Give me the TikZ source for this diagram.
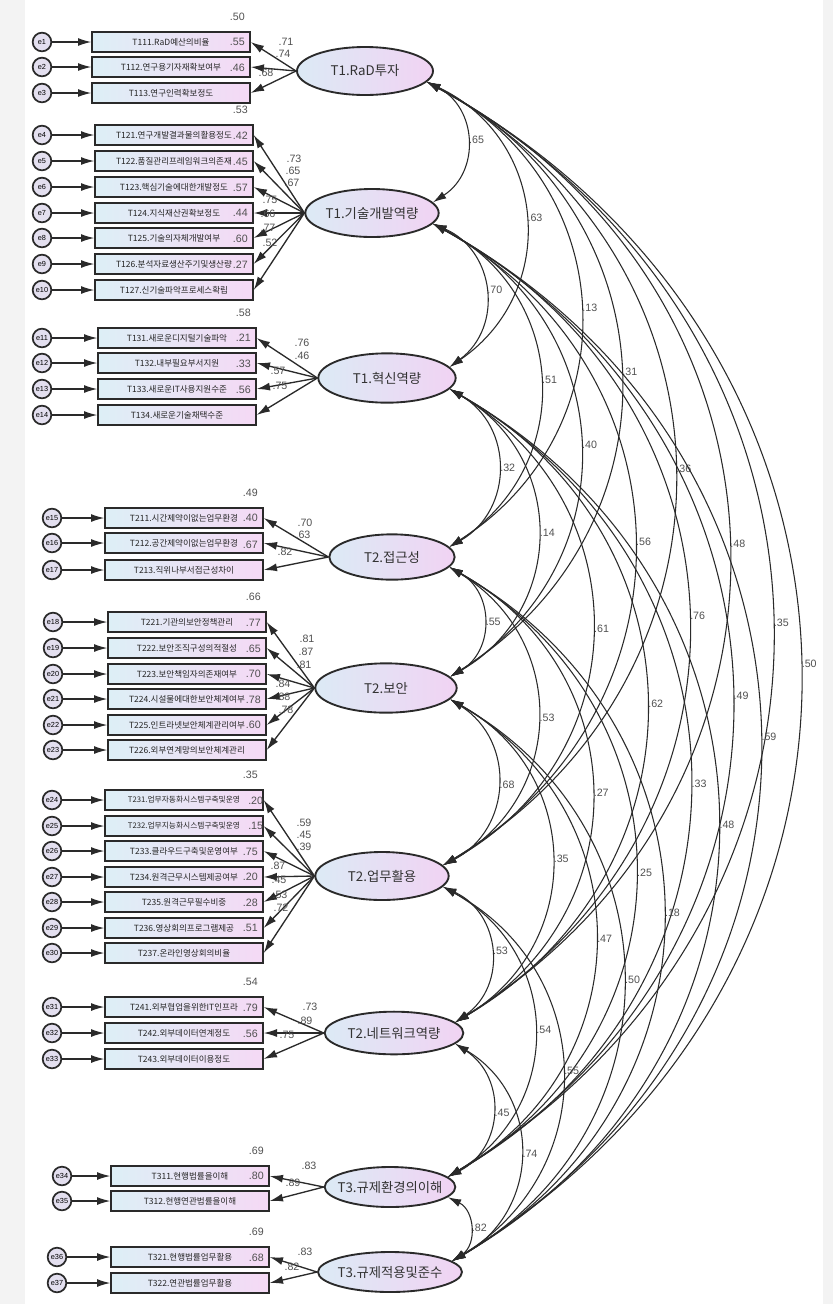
\documentclass[tikz,border=0pt]{standalone}
\usepackage{fontspec}
\newfontfamily\kr{Noto Sans CJK KR}
\newfontfamily\lib{Liberation Sans}
\usetikzlibrary{arrows.meta,shapes.geometric}

\definecolor{lineC}{HTML}{2A2A2A}
\definecolor{numC}{HTML}{505050}
\definecolor{boxL}{HTML}{DDEFF6}
\definecolor{boxR}{HTML}{F5D9F5}
\definecolor{latL}{HTML}{DCEAF5}
\definecolor{latR}{HTML}{F1D3F3}
\definecolor{errF}{HTML}{E3DFEF}
\definecolor{bgC}{HTML}{F3F3F3}

\tikzset{
  ind/.style={draw=lineC, line width=1.5pt, left color=boxL, right color=boxR,
    minimum width=118pt, minimum height=15pt, inner sep=0pt,
    font=\kr\fontsize{6.4}{7}\selectfont, text=black!85},
  lat/.style={ellipse, draw=lineC, line width=1.4pt, left color=latL, right color=latR,
    inner xsep=-10pt, inner ysep=0pt, font=\kr\fontsize{10}{11}\selectfont, text=black!80},
  err/.style={circle, draw=lineC, line width=1.3pt, fill=errF, minimum size=14pt,
    inner sep=0pt, font=\lib\fontsize{5.5}{6}\selectfont},
  num/.style={inner sep=0pt, font=\lib\fontsize{8}{9}\selectfont, text=numC},
  arr/.style={draw=lineC, line width=1pt, -{Latex[length=10pt,width=6pt]}},
  cov/.style={draw=lineC, line width=0.8pt, {Latex[length=10pt,width=6pt]}-{Latex[length=10pt,width=6pt]}, bend left=60, looseness=1.2},
  cl/.style={num, pos=.5, anchor=west, xshift=1.5pt}
}

\begin{document}
\begin{tikzpicture}[x=0.75pt,y=-0.75pt]
	\useasboundingbox (0,0) rectangle (833,1304);
	\fill[bgC] (0,0) rectangle (25,1304);
	\fill[bgC] (823,0) rectangle (833,1304);

	% latent factors
	\node[lat, minimum width=102pt, minimum height=36pt] (F1) at (365,71) {T1.RaD투자};
	\node[lat, minimum width=100pt, minimum height=36pt] (F2) at (372,213) {T1.기술개발역량};
	\node[lat, minimum width=103pt, minimum height=37pt] (F3) at (387,378) {T1.혁신역량};
	\node[lat, minimum width=94pt, minimum height=34pt] (F4) at (392,557) {T2.접근성};
	\node[lat, minimum width=106pt, minimum height=37pt] (F5) at (386,688) {T2.보안};
	\node[lat, minimum width=100pt, minimum height=36pt] (F6) at (382,876) {T2.업무활용};
	\node[lat, minimum width=104pt, minimum height=32pt] (F7) at (394,1033) {T2.네트워크역량};
	\node[lat, minimum width=98pt, minimum height=30pt] (F8) at (390,1187) {T3.규제환경의이해};
	\node[lat, minimum width=108pt, minimum height=30pt] (F9) at (390,1272) {T3.규제적용및준수};

	% T1.RaD투자
	\node[ind] (T111) at (171,42) {T111.RaD예산의비율}; \node[err] (e1) at (42,42) {e1};
	\node[ind] (T112) at (171,67) {T112.연구용기자재확보여부}; \node[err] (e2) at (42,67) {e2};
	\node[ind] (T113) at (171,93) {T113.연구인력확보정도}; \node[err] (e3) at (42,93) {e3};
	\draw[arr] (e1) -- (T111); \draw[arr] (F1.west) -- (T111.east);
	\draw[arr] (e2) -- (T112); \draw[arr] (F1.west) -- (T112.east);
	\draw[arr] (e3) -- (T113); \draw[arr] (F1.west) -- (T113.east);
	\node[num] (r111) at ([shift={(-10pt,10.5pt)}]T111.north east) {.50};
	\node[num] (r112) at ([shift={(-10pt,10.5pt)}]T112.north east) {.55};
	\node[num] (r113) at ([shift={(-10pt,10.5pt)}]T113.north east) {.46};
	\node[num] (w111) at (286,42) {.71};
	\node[num] (w112) at (283,54) {.74};
	\node[num] (w113) at (266,73) {.68};

	% T1.기술개발역량
	\node[ind] (T121) at (174,135) {T121.연구개발결과물의활용정도}; \node[err] (e4) at (42,135) {e4};
	\node[ind] (T122) at (174,161) {T122.품질관리프레임워크의존재}; \node[err] (e5) at (42,161) {e5};
	\node[ind] (T123) at (174,187) {T123.핵심기술에대한개발정도}; \node[err] (e6) at (42,187) {e6};
	\node[ind] (T124) at (174,213) {T124.지식재산권확보정도}; \node[err] (e7) at (42,213) {e7};
	\node[ind] (T125) at (174,238) {T125.기술의자체개발여부}; \node[err] (e8) at (42,238) {e8};
	\node[ind] (T126) at (174,264) {T126.분석자료생산주기및생산량}; \node[err] (e9) at (42,264) {e9};
	\node[ind] (T127) at (174,290) {T127.신기술파악프로세스확립}; \node[err] (e10) at (42,290) {e10};
	\draw[arr] (e4) -- (T121); \draw[arr] (F2.west) -- (T121.east);
	\draw[arr] (e5) -- (T122); \draw[arr] (F2.west) -- (T122.east);
	\draw[arr] (e6) -- (T123); \draw[arr] (F2.west) -- (T123.east);
	\draw[arr] (e7) -- (T124); \draw[arr] (F2.west) -- (T124.east);
	\draw[arr] (e8) -- (T125); \draw[arr] (F2.west) -- (T125.east);
	\draw[arr] (e9) -- (T126); \draw[arr] (F2.west) -- (T126.east);
	\draw[arr] (e10) -- (T127); \draw[arr] (F2.west) -- (T127.east);
	\node[num] (r121) at ([shift={(-10pt,10.5pt)}]T121.north east) {.53};
	\node[num] (r122) at ([shift={(-10pt,10.5pt)}]T122.north east) {.42};
	\node[num] (r123) at ([shift={(-10pt,10.5pt)}]T123.north east) {.45};
	\node[num] (r124) at ([shift={(-10pt,10.5pt)}]T124.north east) {.57};
	\node[num] (r125) at ([shift={(-10pt,10.5pt)}]T125.north east) {.44};
	\node[num] (r126) at ([shift={(-10pt,10.5pt)}]T126.north east) {.60};
	\node[num] (r127) at ([shift={(-10pt,10.5pt)}]T127.north east) {.27};
	\node[num] (w121) at (294,159) {.73};
	\node[num] (w122) at (293,171) {.65};
	\node[num] (w123) at (292,183) {.67};
	\node[num] (w124) at (270,200) {.75};
	\node[num] (w125) at (268,214) {.66};
	\node[num] (w126) at (268,228) {.77};
	\node[num] (w127) at (270,243) {.52};

	% T1.혁신역량
	\node[ind] (T131) at (177,338) {T131.새로운디지털기술파악}; \node[err] (e11) at (42,338) {e11};
	\node[ind] (T132) at (177,363) {T132.내부필요부서지원}; \node[err] (e12) at (42,363) {e12};
	\node[ind] (T133) at (177,389) {T133.새로운IT사용지원수준}; \node[err] (e13) at (42,389) {e13};
	\node[ind] (T134) at (177,415) {T134.새로운기술채택수준}; \node[err] (e14) at (42,415) {e14};
	\draw[arr] (e11) -- (T131); \draw[arr] (F3.west) -- (T131.east);
	\draw[arr] (e12) -- (T132); \draw[arr] (F3.west) -- (T132.east);
	\draw[arr] (e13) -- (T133); \draw[arr] (F3.west) -- (T133.east);
	\draw[arr] (e14) -- (T134); \draw[arr] (F3.west) -- (T134.east);
	\node[num] (r131) at ([shift={(-10pt,10.5pt)}]T131.north east) {.58};
	\node[num] (r132) at ([shift={(-10pt,10.5pt)}]T132.north east) {.21};
	\node[num] (r133) at ([shift={(-10pt,10.5pt)}]T133.north east) {.33};
	\node[num] (r134) at ([shift={(-10pt,10.5pt)}]T134.north east) {.56};
	\node[num] (w131) at (302,343) {.76};
	\node[num] (w132) at (302,356) {.46};
	\node[num] (w133) at (278,371) {.57};
	\node[num] (w134) at (280,386) {.75};

	% T2.접근성
	\node[ind] (T211) at (184,518) {T211.시간제약이없는업무환경}; \node[err] (e15) at (52,518) {e15};
	\node[ind] (T212) at (184,543) {T212.공간제약이없는업무환경}; \node[err] (e16) at (52,543) {e16};
	\node[ind] (T213) at (184,570) {T213.직위나부서접근성차이}; \node[err] (e17) at (52,570) {e17};
	\draw[arr] (e15) -- (T211); \draw[arr] (F4.west) -- (T211.east);
	\draw[arr] (e16) -- (T212); \draw[arr] (F4.west) -- (T212.east);
	\draw[arr] (e17) -- (T213); \draw[arr] (F4.west) -- (T213.east);
	\node[num] (r211) at ([shift={(-10pt,10.5pt)}]T211.north east) {.49};
	\node[num] (r212) at ([shift={(-10pt,10.5pt)}]T212.north east) {.40};
	\node[num] (r213) at ([shift={(-10pt,10.5pt)}]T213.north east) {.67};
	\node[num] (w211) at (305,523) {.70};
	\node[num] (w212) at (303,535) {.63};
	\node[num] (w213) at (285,552) {.82};

	% T2.보안
	\node[ind] (T221) at (187,622) {T221.기관의보안정책관리}; \node[err] (e18) at (53,622) {e18};
	\node[ind] (T222) at (187,648) {T222.보안조직구성의적절성}; \node[err] (e19) at (53,648) {e19};
	\node[ind] (T223) at (187,674) {T223.보안책임자의존재여부}; \node[err] (e20) at (53,674) {e20};
	\node[ind] (T224) at (187,699) {T224.시설물에대한보안체계여부}; \node[err] (e21) at (53,699) {e21};
	\node[ind] (T225) at (187,725) {T225.인트라넷보안체계관리여부}; \node[err] (e22) at (53,725) {e22};
	\node[ind] (T226) at (187,750) {T226.외부연계망의보안체계관리}; \node[err] (e23) at (53,750) {e23};
	\draw[arr] (e18) -- (T221); \draw[arr] (F5.west) -- (T221.east);
	\draw[arr] (e19) -- (T222); \draw[arr] (F5.west) -- (T222.east);
	\draw[arr] (e20) -- (T223); \draw[arr] (F5.west) -- (T223.east);
	\draw[arr] (e21) -- (T224); \draw[arr] (F5.west) -- (T224.east);
	\draw[arr] (e22) -- (T225); \draw[arr] (F5.west) -- (T225.east);
	\draw[arr] (e23) -- (T226); \draw[arr] (F5.west) -- (T226.east);
	\node[num] (r221) at ([shift={(-10pt,10.5pt)}]T221.north east) {.66};
	\node[num] (r222) at ([shift={(-10pt,10.5pt)}]T222.north east) {.77};
	\node[num] (r223) at ([shift={(-10pt,10.5pt)}]T223.north east) {.65};
	\node[num] (r224) at ([shift={(-10pt,10.5pt)}]T224.north east) {.70};
	\node[num] (r225) at ([shift={(-10pt,10.5pt)}]T225.north east) {.78};
	\node[num] (r226) at ([shift={(-10pt,10.5pt)}]T226.north east) {.60};
	\node[num] (w221) at (307,639) {.81};
	\node[num] (w222) at (306,652) {.87};
	\node[num] (w223) at (304,665) {.81};
	\node[num] (w224) at (283,684) {.84};
	\node[num] (w225) at (283,697) {.88};
	\node[num] (w226) at (286,710) {.78};

	% T2.업무활용
	\node[ind, font=\kr\fontsize{5.8}{6}\selectfont] (T231) at (184,800) {T231.업무자동화시스템구축및운영}; \node[err] (e24) at (52,800) {e24};
	\node[ind, font=\kr\fontsize{5.8}{6}\selectfont] (T232) at (184,826) {T232.업무지능화시스템구축및운영}; \node[err] (e25) at (52,826) {e25};
	\node[ind] (T233) at (184,851) {T233.클라우드구축및운영여부}; \node[err] (e26) at (52,851) {e26};
	\node[ind] (T234) at (184,877) {T234.원격근무시스템제공여부}; \node[err] (e27) at (52,877) {e27};
	\node[ind] (T235) at (184,902) {T235.원격근무필수비중}; \node[err] (e28) at (52,902) {e28};
	\node[ind] (T236) at (184,928) {T236.영상회의프로그램제공}; \node[err] (e29) at (52,928) {e29};
	\node[ind] (T237) at (184,953) {T237.온라인영상회의비율}; \node[err] (e30) at (52,953) {e30};
	\draw[arr] (e24) -- (T231); \draw[arr] (F6.west) -- (T231.east);
	\draw[arr] (e25) -- (T232); \draw[arr] (F6.west) -- (T232.east);
	\draw[arr] (e26) -- (T233); \draw[arr] (F6.west) -- (T233.east);
	\draw[arr] (e27) -- (T234); \draw[arr] (F6.west) -- (T234.east);
	\draw[arr] (e28) -- (T235); \draw[arr] (F6.west) -- (T235.east);
	\draw[arr] (e29) -- (T236); \draw[arr] (F6.west) -- (T236.east);
	\draw[arr] (e30) -- (T237); \draw[arr] (F6.west) -- (T237.east);
	\node[num] (r231) at ([shift={(-10pt,10.5pt)}]T231.north east) {.35};
	\node[num] (r232) at ([shift={(-6pt,10.5pt)}]T232.north east) {.20};
	\node[num] (r233) at ([shift={(-6pt,10.5pt)}]T233.north east) {.15};
	\node[num] (r234) at ([shift={(-10pt,10.5pt)}]T234.north east) {.75};
	\node[num] (r235) at ([shift={(-10pt,10.5pt)}]T235.north east) {.20};
	\node[num] (r236) at ([shift={(-10pt,10.5pt)}]T236.north east) {.28};
	\node[num] (r237) at ([shift={(-10pt,10.5pt)}]T237.north east) {.51};
	\node[num] (w231) at (304,823) {.59};
	\node[num] (w232) at (304,835) {.45};
	\node[num] (w233) at (304,847) {.39};
	\node[num] (w234) at (278,866) {.87};
	\node[num] (w235) at (279,880) {.45};
	\node[num] (w236) at (280,895) {.53};
	\node[num] (w237) at (281,908) {.72};

	% T2.네트워크역량
	\node[ind] (T241) at (184,1007) {T241.외부협업을위한IT인프라}; \node[err] (e31) at (52,1007) {e31};
	\node[ind] (T242) at (184,1033) {T242.외부데이터연계정도}; \node[err] (e32) at (52,1033) {e32};
	\node[ind] (T243) at (184,1059) {T243.외부데이터이용정도}; \node[err] (e33) at (52,1059) {e33};
	\draw[arr] (e31) -- (T241); \draw[arr] (F7.west) -- (T241.east);
	\draw[arr] (e32) -- (T242); \draw[arr] (F7.west) -- (T242.east);
	\draw[arr] (e33) -- (T243); \draw[arr] (F7.west) -- (T243.east);
	\node[num] (r241) at ([shift={(-10pt,10.5pt)}]T241.north east) {.54};
	\node[num] (r242) at ([shift={(-10pt,10.5pt)}]T242.north east) {.79};
	\node[num] (r243) at ([shift={(-10pt,10.5pt)}]T243.north east) {.56};
	\node[num] (w241) at (310,1007) {.73};
	\node[num] (w242) at (305,1021) {.89};
	\node[num] (w243) at (287,1035) {.75};

	% T3.규제환경의이해
	\node[ind] (T311) at (190,1176) {T311.현행법률을이해}; \node[err] (e34) at (62,1176) {e34};
	\node[ind] (T312) at (190,1201) {T312.현행연관법률을이해}; \node[err] (e35) at (62,1201) {e35};
	\draw[arr] (e34) -- (T311); \draw[arr] (F8.west) -- (T311.east);
	\draw[arr] (e35) -- (T312); \draw[arr] (F8.west) -- (T312.east);
	\node[num] (r311) at ([shift={(-10pt,10.5pt)}]T311.north east) {.69};
	\node[num] (r312) at ([shift={(-10pt,10.5pt)}]T312.north east) {.80};
	\node[num] (w311) at (309,1166) {.83};
	\node[num] (w312) at (293,1183) {.89};

	% T3.규제적용및준수
	\node[ind] (T321) at (190,1257) {T321.현행법률업무활용}; \node[err] (e36) at (57,1257) {e36};
	\node[ind] (T322) at (190,1283) {T322.연관법률업무활용}; \node[err] (e37) at (57,1283) {e37};
	\draw[arr] (e36) -- (T321); \draw[arr] (F9.west) -- (T321.east);
	\draw[arr] (e37) -- (T322); \draw[arr] (F9.west) -- (T322.east);
	\node[num] (r321) at ([shift={(-10pt,10.5pt)}]T321.north east) {.69};
	\node[num] (r322) at ([shift={(-10pt,10.5pt)}]T322.north east) {.68};
	\node[num] (w321) at (305,1252) {.83};
	\node[num] (w322) at (292,1267) {.82};

	% correlations
	\draw[cov] (F1.-10) to node[cl] {.65} (F2.10);
	\draw[cov] (F1.-10) to node[cl] {.63} (F3.10);
	\draw[cov] (F1.-10) to node[cl] {.13} (F4.10);
	\draw[cov] (F1.-10) to node[cl] {.31} (F5.10);
	\draw[cov] (F1.-10) to node[cl] {.36} (F6.10);
	\draw[cov] (F1.-10) to node[cl] {.48} (F7.10);
	\draw[cov] (F1.-10) to node[cl] {.35} (F8.10);
	\draw[cov] (F1.-10) to node[cl] {.50} (F9.10);
	\draw[cov] (F2.-10) to node[cl] {.70} (F3.10);
	\draw[cov] (F2.-10) to node[cl] {.51} (F4.10);
	\draw[cov] (F2.-10) to node[cl] {.40} (F5.10);
	\draw[cov] (F2.-10) to node[cl] {.56} (F6.10);
	\draw[cov] (F2.-10) to node[cl] {.76} (F7.10);
	\draw[cov] (F2.-10) to node[cl] {.49} (F8.10);
	\draw[cov] (F2.-10) to node[cl] {.59} (F9.10);
	\draw[cov] (F3.-10) to node[cl] {.32} (F4.10);
	\draw[cov] (F3.-10) to node[cl] {.14} (F5.10);
	\draw[cov] (F3.-10) to node[cl] {.61} (F6.10);
	\draw[cov] (F3.-10) to node[cl] {.62} (F7.10);
	\draw[cov] (F3.-10) to node[cl] {.33} (F8.10);
	\draw[cov] (F3.-10) to node[cl] {.48} (F9.10);
	\draw[cov] (F4.-10) to node[cl] {.55} (F5.10);
	\draw[cov] (F4.-10) to node[cl] {.53} (F6.10);
	\draw[cov] (F4.-10) to node[cl] {.27} (F7.10);
	\draw[cov] (F4.-10) to node[cl] {.25} (F8.10);
	\draw[cov] (F4.-10) to node[cl] {.18} (F9.10);
	\draw[cov] (F5.-10) to node[cl] {.68} (F6.10);
	\draw[cov] (F5.-10) to node[cl] {.35} (F7.10);
	\draw[cov] (F5.-10) to node[cl] {.47} (F8.10);
	\draw[cov] (F5.-10) to node[cl] {.50} (F9.10);
	\draw[cov] (F6.-10) to node[cl] {.53} (F7.10);
	\draw[cov] (F6.-10) to node[cl] {.54} (F8.10);
	\draw[cov] (F6.-10) to node[cl] {.55} (F9.10);
	\draw[cov] (F7.-10) to node[cl] {.45} (F8.10);
	\draw[cov] (F7.-10) to node[cl] {.74} (F9.10);
	\draw[cov] (F8.-10) to node[cl] {.82} (F9.10);
\end{tikzpicture}
\end{document}
